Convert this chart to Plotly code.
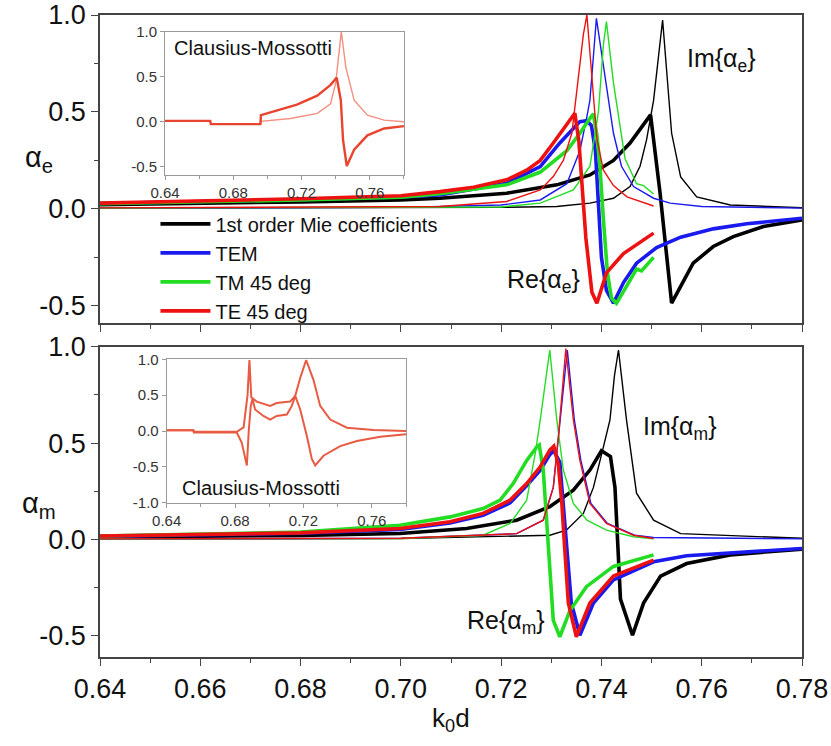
import plotly.graph_objects as go

# ---------------- data ----------------
# Top panel: electric polarizability alpha_e  (thick = Re, thin = Im)
x_mie_e_re = [0.64, 0.66, 0.68, 0.70, 0.7078, 0.7211, 0.7311, 0.7377, 0.7424, 0.7457, 0.7477, 0.7498, 0.7517, 0.7540, 0.7558, 0.7583, 0.7623, 0.7663, 0.7723, 0.78]
y_mie_e_re = [0.022, 0.028, 0.036, 0.046, 0.055, 0.081, 0.124, 0.175, 0.25, 0.34, 0.41, 0.485, 0.08, -0.486, -0.40, -0.28, -0.194, -0.143, -0.091, -0.057]
x_mie_e_im = [0.64, 0.68, 0.70, 0.72, 0.7311, 0.7377, 0.7424, 0.7457, 0.7477, 0.7490, 0.7504, 0.7514, 0.7522, 0.7540, 0.7558, 0.7590, 0.7657, 0.78]
y_mie_e_im = [0.004, 0.005, 0.006, 0.008, 0.012, 0.03, 0.055, 0.115, 0.22, 0.356, 0.56, 0.8, 0.974, 0.39, 0.165, 0.062, 0.02, 0.006]

x_tem_e_re = [0.64, 0.66, 0.68, 0.70, 0.7078, 0.7211, 0.7278, 0.7317, 0.7344, 0.7357, 0.7371, 0.7380, 0.7388, 0.7394, 0.7400, 0.7410, 0.7424, 0.7444, 0.747, 0.751, 0.7558, 0.7623, 0.769, 0.78]
y_tem_e_re = [0.028, 0.037, 0.048, 0.062, 0.072, 0.132, 0.218, 0.34, 0.416, 0.45, 0.455, 0.43, 0.30, 0.05, -0.25, -0.42, -0.486, -0.38, -0.28, -0.20, -0.146, -0.103, -0.077, -0.048]
x_tem_e_im = [0.64, 0.70, 0.72, 0.7278, 0.7331, 0.7357, 0.7371, 0.7377, 0.7390, 0.7414, 0.7424, 0.744, 0.7464, 0.7504, 0.7537, 0.7600, 0.78]
y_tem_e_im = [0.004, 0.008, 0.02, 0.046, 0.13, 0.30, 0.476, 0.56, 0.983, 0.56, 0.39, 0.22, 0.115, 0.055, 0.03, 0.012, 0.004]

x_tm_e_re = [0.64, 0.66, 0.68, 0.70, 0.7078, 0.7211, 0.7278, 0.7331, 0.7357, 0.7377, 0.7384, 0.7391, 0.7397, 0.7404, 0.7412, 0.7420, 0.743, 0.745, 0.747, 0.748, 0.7504]
y_tm_e_re = [0.027, 0.035, 0.046, 0.06, 0.078, 0.124, 0.19, 0.30, 0.39, 0.467, 0.49, 0.38, 0.22, -0.057, -0.33, -0.46, -0.487, -0.40, -0.31, -0.32, -0.25]
x_tm_e_im = [0.64, 0.72, 0.7278, 0.7344, 0.7377, 0.7394, 0.7404, 0.7410, 0.7424, 0.7447, 0.747, 0.7484, 0.7504]
y_tm_e_im = [0.004, 0.01, 0.03, 0.098, 0.22, 0.5, 0.85, 0.966, 0.65, 0.26, 0.13, 0.12, 0.077]

x_te_e_re = [0.64, 0.66, 0.68, 0.70, 0.7078, 0.7145, 0.7211, 0.7251, 0.7278, 0.7304, 0.7324, 0.7341, 0.7347, 0.7355, 0.7362, 0.7369, 0.7381, 0.7391, 0.741, 0.7444, 0.7504]
y_te_e_re = [0.03, 0.04, 0.052, 0.068, 0.089, 0.112, 0.15, 0.20, 0.25, 0.34, 0.41, 0.476, 0.493, 0.35, 0.10, -0.15, -0.43, -0.487, -0.33, -0.23, -0.125]
x_te_e_im = [0.64, 0.70, 0.7078, 0.7211, 0.7278, 0.7304, 0.7324, 0.7341, 0.7355, 0.7364, 0.7371, 0.7382, 0.7391, 0.7404, 0.7424, 0.7451, 0.7504]
y_te_e_im = [0.005, 0.008, 0.012, 0.038, 0.098, 0.167, 0.25, 0.39, 0.70, 0.9, 1.0, 0.65, 0.36, 0.2, 0.12, 0.062, 0.015]

# Bottom panel: magnetic polarizability alpha_m
x_mie_m_re = [0.64, 0.66, 0.68, 0.6998, 0.7131, 0.7231, 0.7297, 0.7344, 0.7377, 0.7400, 0.7418, 0.7427, 0.7432, 0.7438, 0.7462, 0.7484, 0.7518, 0.757, 0.7657, 0.78]
y_mie_m_re = [0.012, 0.016, 0.021, 0.031, 0.057, 0.10, 0.17, 0.256, 0.36, 0.46, 0.43, 0.27, 0.0, -0.31, -0.497, -0.33, -0.19, -0.125, -0.08, -0.05]
x_mie_m_im = [0.64, 0.70, 0.7297, 0.733, 0.7364, 0.7384, 0.7404, 0.7417, 0.7426, 0.7434, 0.7450, 0.747, 0.7504, 0.7558, 0.78]
y_mie_m_im = [0.003, 0.004, 0.022, 0.048, 0.135, 0.27, 0.48, 0.62, 0.85, 0.983, 0.62, 0.24, 0.10, 0.03, 0.006]

x_tem_m_re = [0.64, 0.66, 0.68, 0.6998, 0.7098, 0.7164, 0.7218, 0.7251, 0.7278, 0.7297, 0.7305, 0.7317, 0.7330, 0.7340, 0.7357, 0.7384, 0.7424, 0.7504, 0.757, 0.7657, 0.78]
y_tem_m_re = [0.016, 0.022, 0.032, 0.052, 0.085, 0.125, 0.19, 0.28, 0.36, 0.44, 0.46, 0.40, 0.0, -0.33, -0.497, -0.33, -0.21, -0.116, -0.085, -0.069, -0.047]
x_tem_m_im = [0.64, 0.70, 0.7231, 0.7284, 0.7304, 0.7314, 0.7332, 0.7346, 0.7359, 0.7379, 0.7412, 0.7466, 0.7504, 0.78]
y_tem_m_im = [0.003, 0.006, 0.03, 0.10, 0.27, 0.53, 0.983, 0.62, 0.41, 0.187, 0.083, 0.022, 0.01, 0.003]

x_tm_m_re = [0.64, 0.66, 0.68, 0.6998, 0.7098, 0.7164, 0.7198, 0.7224, 0.7251, 0.7271, 0.7276, 0.7284, 0.7291, 0.7294, 0.7304, 0.7317, 0.7337, 0.737, 0.7424, 0.7504]
y_tm_m_re = [0.018, 0.026, 0.038, 0.074, 0.117, 0.16, 0.204, 0.29, 0.41, 0.48, 0.49, 0.36, 0.1, -0.056, -0.42, -0.505, -0.37, -0.245, -0.14, -0.08]
x_tm_m_im = [0.64, 0.70, 0.7164, 0.7218, 0.7251, 0.7268, 0.7278, 0.7297, 0.7311, 0.7324, 0.7344, 0.7371, 0.741, 0.7464, 0.7504]
y_tm_m_im = [0.003, 0.005, 0.022, 0.083, 0.204, 0.446, 0.62, 0.983, 0.62, 0.36, 0.187, 0.10, 0.048, 0.014, 0.003]

x_te_m_re = [0.64, 0.66, 0.68, 0.6998, 0.7098, 0.7164, 0.7218, 0.7251, 0.7278, 0.7297, 0.7305, 0.7314, 0.7321, 0.7327, 0.7334, 0.735, 0.7377, 0.7424, 0.7504]
y_te_m_re = [0.018, 0.024, 0.034, 0.057, 0.092, 0.135, 0.204, 0.29, 0.377, 0.464, 0.484, 0.39, 0.19, -0.056, -0.33, -0.505, -0.33, -0.19, -0.107]
x_te_m_im = [0.64, 0.70, 0.7231, 0.7284, 0.7304, 0.7314, 0.7329, 0.7344, 0.7357, 0.7377, 0.741, 0.7464, 0.7504]
y_te_m_im = [0.003, 0.006, 0.03, 0.10, 0.27, 0.53, 0.99, 0.62, 0.41, 0.187, 0.083, 0.022, 0.005]

# Top inset: Clausius-Mossotti alpha_e
x_cm_e_re = [0.64, 0.6665, 0.6668, 0.6959, 0.6962, 0.7057, 0.7173, 0.7292, 0.737, 0.7406, 0.743, 0.7443, 0.7465, 0.7508, 0.7586, 0.7684, 0.78]
y_cm_e_re = [0.01, 0.01, -0.026, -0.026, 0.074, 0.13, 0.19, 0.29, 0.41, 0.49, 0.24, -0.20, -0.49, -0.31, -0.15, -0.074, -0.048]
x_cm_e_im = [0.64, 0.6665, 0.6668, 0.6959, 0.6962, 0.7135, 0.7292, 0.737, 0.7400, 0.7433, 0.7459, 0.7508, 0.7586, 0.7684, 0.78]
y_cm_e_im = [0.01, 0.01, -0.02, -0.02, 0.005, 0.037, 0.093, 0.2, 0.43, 1.0, 0.61, 0.24, 0.074, 0.019, 0.0]

# Bottom inset: Clausius-Mossotti alpha_m
x_cm_m_a = [0.64, 0.6556, 0.6559, 0.681, 0.6839, 0.6869, 0.6880, 0.6892, 0.6902, 0.6917, 0.6966, 0.7005, 0.7044, 0.7103, 0.7132, 0.7152, 0.7181, 0.7220, 0.7249, 0.7269, 0.7317, 0.7415, 0.7513, 0.7649, 0.78]
y_cm_m_a = [0.01, 0.01, -0.02, -0.02, -0.16, -0.48, 0.0, 0.35, 0.45, 0.30, 0.21, 0.16, 0.21, 0.23, 0.35, 0.49, 0.30, -0.07, -0.39, -0.48, -0.345, -0.21, -0.14, -0.08, -0.045]
x_cm_m_b = [0.64, 0.6556, 0.6559, 0.681, 0.6850, 0.6873, 0.6884, 0.6895, 0.6927, 0.7005, 0.7044, 0.7122, 0.7152, 0.7181, 0.7216, 0.7259, 0.7298, 0.7357, 0.7454, 0.761, 0.78]
y_cm_m_b = [0.01, 0.01, -0.01, -0.01, 0.05, 0.5, 0.99, 0.47, 0.41, 0.35, 0.39, 0.41, 0.49, 0.74, 0.99, 0.71, 0.35, 0.16, 0.046, 0.014, 0.0]

legend_names = ["1st order Mie coefficients", "TEM", "TM 45 deg", "TE 45 deg"]
series_colors = ["#000000", "#1a1aee", "#22dd22", "#ee1111"]

x_ticks = [0.64, 0.66, 0.68, 0.70, 0.72, 0.74, 0.76, 0.78]
x_ticklabels = ["0.64", "0.66", "0.68", "0.70", "0.72", "0.74", "0.76", "0.78"]
y_ticks = [-0.5, 0.0, 0.5, 1.0]
y_ticklabels = ["-0.5", "0.0", "0.5", "1.0"]
inset_x_ticks = [0.64, 0.68, 0.72, 0.76]
inset_x_ticklabels = ["0.64", "0.68", "0.72", "0.76"]
inset_e_y_ticks = [-0.5, 0.0, 0.5, 1.0]
inset_e_y_ticklabels = ["-0.5", "0.0", "0.5", "1.0"]
inset_m_y_ticks = [-1.0, -0.5, 0.0, 0.5, 1.0]
inset_m_y_ticklabels = ["-1.0", "-0.5", "0.0", "0.5", "1.0"]

# ---------------- figure ----------------
FONT = "Liberation Sans, Arial, sans-serif"
THICK = 3.6
THIN = 1.4

fig = go.Figure()

top = [(x_mie_e_re, y_mie_e_re, x_mie_e_im, y_mie_e_im),
       (x_tem_e_re, y_tem_e_re, x_tem_e_im, y_tem_e_im),
       (x_tm_e_re, y_tm_e_re, x_tm_e_im, y_tm_e_im),
       (x_te_e_re, y_te_e_re, x_te_e_im, y_te_e_im)]
bot = [(x_mie_m_re, y_mie_m_re, x_mie_m_im, y_mie_m_im),
       (x_tem_m_re, y_tem_m_re, x_tem_m_im, y_tem_m_im),
       (x_tm_m_re, y_tm_m_re, x_tm_m_im, y_tm_m_im),
       (x_te_m_re, y_te_m_re, x_te_m_im, y_te_m_im)]

for i, (xr, yr, xi, yi) in enumerate(top):
    c = series_colors[i]
    fig.add_trace(go.Scatter(x=xi, y=yi, mode="lines", line=dict(color=c, width=THIN),
                             xaxis="x", yaxis="y", showlegend=False, hoverinfo="skip"))
    fig.add_trace(go.Scatter(x=xr, y=yr, mode="lines", line=dict(color=c, width=THICK),
                             xaxis="x", yaxis="y", name=legend_names[i], showlegend=True))
for i, (xr, yr, xi, yi) in enumerate(bot):
    c = series_colors[i]
    fig.add_trace(go.Scatter(x=xi, y=yi, mode="lines", line=dict(color=c, width=THIN),
                             xaxis="x2", yaxis="y2", showlegend=False, hoverinfo="skip"))
    fig.add_trace(go.Scatter(x=xr, y=yr, mode="lines", line=dict(color=c, width=THICK),
                             xaxis="x2", yaxis="y2", showlegend=False))

# insets
fig.add_trace(go.Scatter(x=x_cm_e_im, y=y_cm_e_im, mode="lines", line=dict(color="#f29080", width=1.4),
                         xaxis="x3", yaxis="y3", showlegend=False))
fig.add_trace(go.Scatter(x=x_cm_e_re, y=y_cm_e_re, mode="lines", line=dict(color="#e8442e", width=2.4),
                         xaxis="x3", yaxis="y3", showlegend=False))
fig.add_trace(go.Scatter(x=x_cm_m_a, y=y_cm_m_a, mode="lines", line=dict(color="#e85a42", width=2.0),
                         xaxis="x4", yaxis="y4", showlegend=False))
fig.add_trace(go.Scatter(x=x_cm_m_b, y=y_cm_m_b, mode="lines", line=dict(color="#e85a42", width=2.0),
                         xaxis="x4", yaxis="y4", showlegend=False))

axis_line = dict(showline=True, linecolor="#444444", linewidth=1.6, mirror=True, automargin=False,
                 ticks="outside", ticklen=7, tickwidth=1.4, tickcolor="#444444",
                 ticklabeloverflow="allow",
                 showgrid=False, zeroline=False, tickfont=dict(family=FONT, size=27, color="#111111"))

main_x = dict(axis_line, range=[0.64, 0.78], tickmode="array", tickvals=x_ticks, ticktext=x_ticklabels,
              minor=dict(ticks="outside", ticklen=4, tickcolor="#444444",
                         tickvals=[0.65, 0.67, 0.69, 0.71, 0.73, 0.75, 0.77]))
main_y = dict(axis_line, tickmode="array", tickvals=y_ticks, ticktext=y_ticklabels,
              minor=dict(ticks="outside", ticklen=4, tickcolor="#444444", tickvals=[-0.25, 0.25, 0.75]))

inset_axis = dict(showline=True, linecolor="#9a9a9a", linewidth=1, mirror=True, automargin=False,
                  ticks="outside", ticklen=4, tickcolor="#9a9a9a", showgrid=False, zeroline=False,
                  ticklabeloverflow="allow",
                  tickfont=dict(family=FONT, size=15, color="#333333"))

fig.update_layout(
    template="none",
    width=831, height=746,
    margin=dict(l=100, r=29, t=15, b=89, autoexpand=False),
    paper_bgcolor="white", plot_bgcolor="white",
    font=dict(family=FONT, color="#111111"),
    xaxis=dict(main_x, domain=[0, 1], anchor="y", showticklabels=False),
    yaxis=dict(main_y, domain=[0.5198, 1.0], anchor="x", range=[-0.59, 1.0]),
    xaxis2=dict(main_x, domain=[0, 1], anchor="y2"),
    yaxis2=dict(main_y, domain=[0.0, 0.4833], anchor="x2", range=[-0.61, 1.0]),
    xaxis3=dict(inset_axis, domain=[0.0926, 0.4330], anchor="y3", range=[0.64, 0.78],
                tickmode="array", tickvals=inset_x_ticks, ticktext=inset_x_ticklabels,
                minor=dict(ticks="outside", ticklen=3, tickcolor="#9a9a9a", tickvals=[0.66, 0.70, 0.74, 0.78])),
    yaxis3=dict(inset_axis, domain=[0.7508, 0.974], anchor="x3", range=[-0.59, 1.0],
                tickmode="array", tickvals=inset_e_y_ticks, ticktext=inset_e_y_ticklabels),
    xaxis4=dict(inset_axis, domain=[0.0950, 0.4359], anchor="y4", range=[0.64, 0.78],
                tickmode="array", tickvals=inset_x_ticks, ticktext=inset_x_ticklabels,
                minor=dict(ticks="outside", ticklen=3, tickcolor="#9a9a9a", tickvals=[0.66, 0.70, 0.74, 0.78])),
    yaxis4=dict(inset_axis, domain=[0.2403, 0.4637], anchor="x4", range=[-1.0, 1.0],
                tickmode="array", tickvals=inset_m_y_ticks, ticktext=inset_m_y_ticklabels),
    legend=dict(x=0.079, y=0.705, xanchor="left", yanchor="top", bgcolor="rgba(0,0,0,0)",
                font=dict(family=FONT, size=20, color="#111111"), itemwidth=50,
                tracegroupgap=0),
    showlegend=True,
)

ann_font = dict(family=FONT, size=25, color="#111111")
fig.add_annotation(x=0.7639, y=0.77, xref="x", yref="y", text="Im{α<sub>e</sub>}", showarrow=False,
                   font=ann_font, xanchor="center", yanchor="middle")
fig.add_annotation(x=0.7284, y=-0.37, xref="x", yref="y", text="Re{α<sub>e</sub>}", showarrow=False,
                   font=ann_font, xanchor="center", yanchor="middle")
fig.add_annotation(x=0.7557, y=0.58, xref="x2", yref="y2", text="Im{α<sub>m</sub>}", showarrow=False,
                   font=ann_font, xanchor="center", yanchor="middle")
fig.add_annotation(x=0.721, y=-0.43, xref="x2", yref="y2", text="Re{α<sub>m</sub>}", showarrow=False,
                   font=ann_font, xanchor="center", yanchor="middle")
fig.add_annotation(x=0.6441, y=0.82, xref="x3", yref="y3", text="Clausius-Mossotti", showarrow=False,
                   font=dict(family=FONT, size=20, color="#111111"), xanchor="left", yanchor="middle")
fig.add_annotation(x=0.6478, y=-0.80, xref="x4", yref="y4", text="Clausius-Mossotti", showarrow=False,
                   font=dict(family=FONT, size=20, color="#111111"), xanchor="left", yanchor="middle")
fig.add_annotation(x=-0.087, y=0.775, xref="paper", yref="paper", text="α<sub>e</sub>", showarrow=False,
                   font=dict(family=FONT, size=29, color="#111111"), xanchor="center", yanchor="middle")
fig.add_annotation(x=-0.087, y=0.237, xref="paper", yref="paper", text="α<sub>m</sub>", showarrow=False,
                   font=dict(family=FONT, size=29, color="#111111"), xanchor="center", yanchor="middle")
fig.add_annotation(x=0.5, y=-0.098, xref="paper", yref="paper", text="k<sub>0</sub>d", showarrow=False,
                   font=dict(family=FONT, size=26, color="#111111"), xanchor="center", yanchor="middle")

# remove the default 8px page margin so the 831x746 figure fills the window exactly
fig.write_html("out.html", config={"displayModeBar": False},
               post_script="document.body.style.margin='0';document.body.style.overflow='hidden';")
